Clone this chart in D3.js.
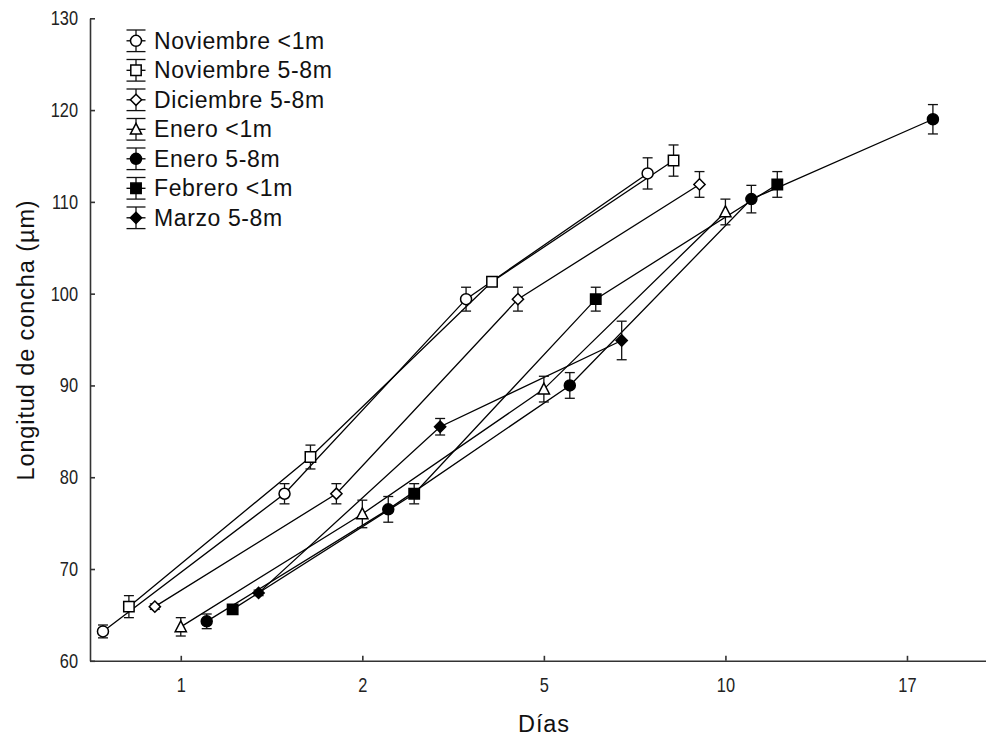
<!DOCTYPE html>
<html>
<head>
<meta charset="utf-8">
<script src="https://cdn.jsdelivr.net/npm/d3@7"></script>
<style>
  html, body { margin: 0; padding: 0; background: #fff; }
  svg { display: block; }
  .tick text { font-family: "Liberation Sans", Arial, sans-serif; font-size: 20px; fill: #222; }
  .axis path, .axis line { stroke: #333; stroke-width: 1.6; }
  .lbl { font-family: "Liberation Sans", Arial, Helvetica, sans-serif; fill: #111; }
</style>
</head>
<body>
<svg id="chart" width="986" height="737"></svg>
<script>
// Sampling days (categorical axis)
const days = ["1", "2", "5", "10", "17"];
const yTicks = [60, 70, 80, 90, 100, 110, 120, 130];

// Series: shell length means (µm) and error bars, one value per sampling day
const seriesNames = ["Noviembre <1m", "Noviembre 5-8m", "Diciembre 5-8m", "Enero <1m", "Enero 5-8m", "Febrero <1m", "Marzo 5-8m"];
const seriesSymbols = ["circle", "square", "diamond", "triangle", "circle", "square", "diamond"];
const seriesFilled = [false, false, false, false, true, true, true];

const novLt1Mean = [63.2, 78.2, 99.4, 113.1];
const novLt1Err  = [0.7, 1.1, 1.3, 1.7];
const nov58Mean  = [65.9, 82.2, 101.3, 114.5];
const nov58Err   = [1.2, 1.3, 0.3, 1.7];
const dic58Mean  = [65.9, 78.2, 99.4, 111.9];
const dic58Err   = [0.3, 1.1, 1.3, 1.4];
const eneLt1Mean = [63.7, 76.0, 89.6, 108.9];
const eneLt1Err  = [1.0, 1.5, 1.4, 1.4];
const ene58Mean  = [64.3, 76.5, 90.0, 110.3, 119.0];
const ene58Err   = [0.8, 1.4, 1.4, 1.5, 1.6];
const febLt1Mean = [65.6, 78.2, 99.4, 111.9];
const febLt1Err  = [0.5, 1.1, 1.3, 1.4];
const mar58Mean  = [67.4, 85.5, 94.9];
const mar58Err   = [0.3, 0.9, 2.1];

const means = [novLt1Mean, nov58Mean, dic58Mean, eneLt1Mean, ene58Mean, febLt1Mean, mar58Mean];
const errs  = [novLt1Err, nov58Err, dic58Err, eneLt1Err, ene58Err, febLt1Err, mar58Err];

const series = seriesNames.map((name, i) => ({
  name,
  symbol: seriesSymbols[i],
  filled: seriesFilled[i],
  points: means[i].map((v, j) => ({ day: days[j], v, e: errs[i][j] }))
}));

const svg = d3.select("#chart");

// Scales
const x = d3.scalePoint().domain(days).range([90, 997.75]).padding(0.5);
const dodge = d3.scalePoint().domain(seriesNames)
  .range([-x.step() * 3 / 7, x.step() * 3 / 7]);
const y = d3.scaleLinear().domain([60, 130]).range([660.8, 18.3]);

// Narrow tick numerals: horizontally compressed text
const squeeze = 0.82;

// Axes (ticks point into the plot)
const gx = svg.append("g").attr("class", "axis")
  .attr("transform", `translate(0,${y(60)})`)
  .call(d3.axisBottom(x).tickSizeInner(-5).tickSizeOuter(0).tickPadding(17));
gx.selectAll(".tick text").attr("transform", `scale(${squeeze},1)`);

const gy = svg.append("g").attr("class", "axis")
  .attr("transform", `translate(${x.range()[0]},0)`)
  .call(d3.axisLeft(y).tickValues(yTicks).tickSizeInner(-5).tickSizeOuter(0).tickPadding(12));
gy.selectAll(".tick text").attr("x", -12 / squeeze).attr("transform", `scale(${squeeze},1)`);

// Axis titles
svg.append("text").attr("class", "lbl")
  .attr("transform", "translate(34,340) rotate(-90)")
  .attr("text-anchor", "middle")
  .style("font-size", "23.5px").style("letter-spacing", "0.9px")
  .text("Longitud de concha (µm)");

svg.append("text").attr("class", "lbl")
  .attr("x", 544).attr("y", 732)
  .attr("text-anchor", "middle")
  .style("font-size", "23.5px").style("letter-spacing", "0.9px")
  .text("Días");

// Marker shapes
function symbolPath(type) {
  switch (type) {
    case "circle": return d3.symbol(d3.symbolCircle, 95)();
    case "square": return "M-5.2,-5.2H5.2V5.2H-5.2Z";
    case "diamond": return "M0,-5.6L5.6,0L0,5.6L-5.6,0Z";
    case "triangle": return "M0,-6L5.6,4.8H-5.6Z";
  }
}

const plot = svg.append("g");
const line = d3.line().x(d => d.cx).y(d => y(d.v));

series.forEach(s => {
  const pts = s.points.map(p => ({ ...p, cx: x(p.day) + dodge(s.name) }));
  plot.append("path")
    .attr("d", line(pts))
    .attr("fill", "none").attr("stroke", "#000").attr("stroke-width", 1.3);
  s.pts = pts;
});

// Error bars, then markers on top
series.forEach(s => {
  const g = plot.append("g").attr("stroke", "#111").attr("stroke-width", 1.3);
  s.pts.forEach(p => {
    const y0 = y(p.v - p.e), y1 = y(p.v + p.e);
    g.append("line").attr("x1", p.cx).attr("x2", p.cx).attr("y1", y0).attr("y2", y1);
    g.append("line").attr("x1", p.cx - 5).attr("x2", p.cx + 5).attr("y1", y0).attr("y2", y0);
    g.append("line").attr("x1", p.cx - 5).attr("x2", p.cx + 5).attr("y1", y1).attr("y2", y1);
  });
});

series.forEach(s => {
  plot.append("g").selectAll("path").data(s.pts).join("path")
    .attr("transform", p => `translate(${p.cx},${y(p.v)})`)
    .attr("d", symbolPath(s.symbol))
    .attr("fill", s.filled ? "#000" : "#fff")
    .attr("stroke", "#000").attr("stroke-width", 1.5);
});

// Legend
const legend = svg.append("g").attr("transform", "translate(136,40.8)");
series.forEach((s, i) => {
  const g = legend.append("g").attr("transform", `translate(0,${i * 29.5})`);
  g.append("line").attr("x1", 0).attr("x2", 0).attr("y1", -10.8).attr("y2", 10.8)
    .attr("stroke", "#111").attr("stroke-width", 1.3);
  [-10.8, 10.8].forEach(cy => g.append("line")
    .attr("x1", -9.5).attr("x2", 9.5).attr("y1", cy).attr("y2", cy)
    .attr("stroke", "#111").attr("stroke-width", 1.3));
  g.append("line").attr("x1", -9.5).attr("x2", 9.5).attr("y1", 0).attr("y2", 0)
    .attr("stroke", "#000").attr("stroke-width", 1.3);
  g.append("path").attr("d", symbolPath(s.symbol))
    .attr("fill", s.filled ? "#000" : "#fff")
    .attr("stroke", "#000").attr("stroke-width", 1.5);
  g.append("text").attr("class", "lbl")
    .attr("x", 18).attr("y", 8)
    .style("font-size", "23px").style("letter-spacing", "0.6px")
    .text(s.name);
});
</script>
</body>
</html>
